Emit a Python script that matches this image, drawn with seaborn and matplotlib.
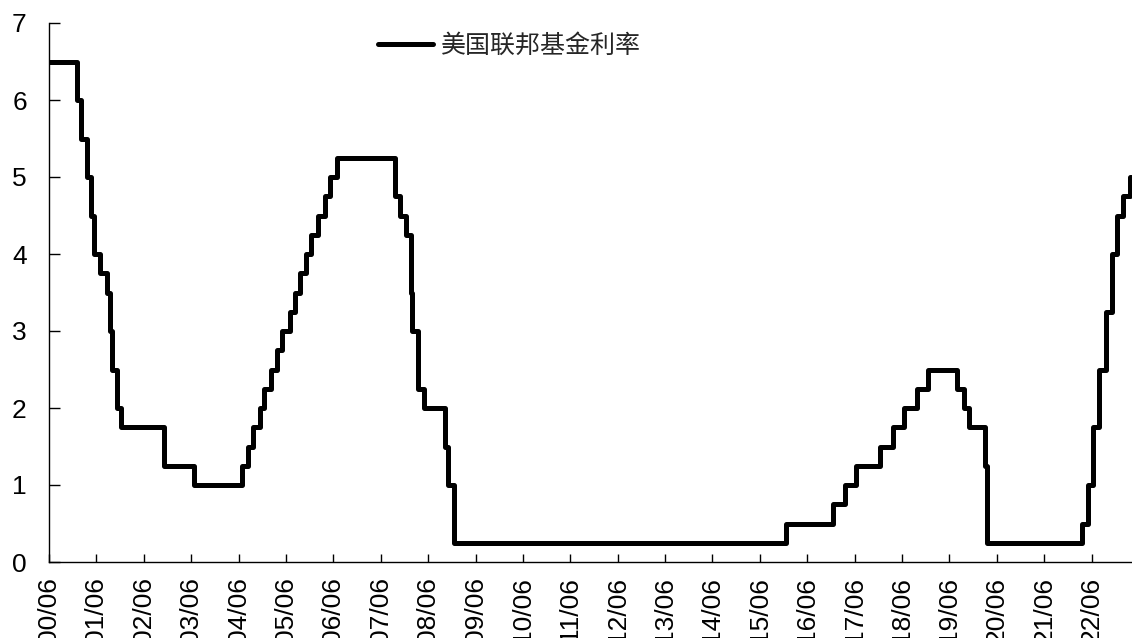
import pandas as pd
import matplotlib
matplotlib.use('Agg')
import matplotlib.pyplot as plt
import seaborn as sns

# ============ 数据：美国联邦基金目标利率（上限）调整日期 ============
change_dates = [
    '2000-06-01', '2001-01-03', '2001-01-31', '2001-03-20', '2001-04-18',
    '2001-05-15', '2001-06-27', '2001-08-21', '2001-09-17', '2001-10-02',
    '2001-11-06', '2001-12-11', '2002-11-06', '2003-06-25', '2004-06-30',
    '2004-08-10', '2004-09-21', '2004-11-10', '2004-12-14', '2005-02-02',
    '2005-03-22', '2005-05-03', '2005-06-30', '2005-08-09', '2005-09-20',
    '2005-11-01', '2005-12-13', '2006-01-31', '2006-03-28', '2006-05-10',
    '2006-06-29', '2007-09-18', '2007-10-31', '2007-12-11', '2008-01-22',
    '2008-01-30', '2008-03-18', '2008-04-30', '2008-10-08', '2008-10-29',
    '2008-12-16', '2015-12-16', '2016-12-14', '2017-03-15', '2017-06-14',
    '2017-12-13', '2018-03-21', '2018-06-13', '2018-09-26', '2018-12-19',
    '2019-07-31', '2019-09-18', '2019-10-30', '2020-03-03', '2020-03-15',
    '2022-03-16', '2022-05-04', '2022-06-15', '2022-07-27', '2022-09-21',
    '2022-11-02', '2022-12-14', '2023-02-01', '2023-03-22', '2023-03-28',
]
rates = [
    6.50, 6.00, 5.50, 5.00, 4.50,
    4.00, 3.75, 3.50, 3.00, 2.50,
    2.00, 1.75, 1.25, 1.00, 1.25,
    1.50, 1.75, 2.00, 2.25, 2.50,
    2.75, 3.00, 3.25, 3.50, 3.75,
    4.00, 4.25, 4.50, 4.75, 5.00,
    5.25, 4.75, 4.50, 4.25, 3.50,
    3.00, 2.25, 2.00, 1.50, 1.00,
    0.25, 0.50, 0.75, 1.00, 1.25,
    1.50, 1.75, 2.00, 2.25, 2.50,
    2.25, 2.00, 1.75, 1.25, 0.25,
    0.50, 1.00, 1.75, 2.50, 3.25,
    4.00, 4.50, 4.75, 5.00, 5.00,
]
tick_years = list(range(2000, 2023))
tick_labels = [f'{y % 100:02d}/06' for y in tick_years]
y_ticks = [0, 1, 2, 3, 4, 5, 6, 7]

df = pd.DataFrame({'date': pd.to_datetime(change_dates), 'rate': rates})

# ============ 绘图 ============
sns.set_style('ticks')
plt.rcParams['font.family'] = ['Liberation Sans', 'Noto Sans CJK SC', 'DejaVu Sans']
plt.rcParams['axes.unicode_minus'] = False

fig = plt.figure(figsize=(11.32, 6.38), dpi=100)
ax = fig.add_axes([49 / 1132, 76 / 638, (1132 - 49) / 1132, 539 / 638])

sns.lineplot(data=df, x='date', y='rate', ax=ax, color='black', linewidth=3.6,
             drawstyle='steps-post', label='美国联邦基金利率')

ax.set_xlim(pd.Timestamp('2000-06-01'), pd.Timestamp('2023-04-08'))
ax.set_ylim(0, 7)
ax.set_xticks([pd.Timestamp(f'{y}-06-01') for y in tick_years])
ax.set_xticklabels(tick_labels, rotation=90, fontsize=19)
ax.set_yticks(y_ticks)
ax.set_yticklabels([str(v) for v in y_ticks], fontsize=19)
ax.set_xlabel('')
ax.set_ylabel('')

ax.tick_params(axis='x', direction='in', length=6, width=1, pad=11, colors='black')
ax.tick_params(axis='y', direction='in', length=8, width=1, pad=16, colors='black')
sns.despine(ax=ax)
for side in ['left', 'bottom']:
    ax.spines[side].set_color('black')
    ax.spines[side].set_linewidth(1)

ax.legend(loc='center left', bbox_to_anchor=(378 / 1132, 592 / 638),
          bbox_transform=fig.transFigure, frameon=False, fontsize=18,
          handlelength=2.2, handletextpad=0.3, borderpad=0, borderaxespad=0)

fig.savefig('out.png', dpi=100)
